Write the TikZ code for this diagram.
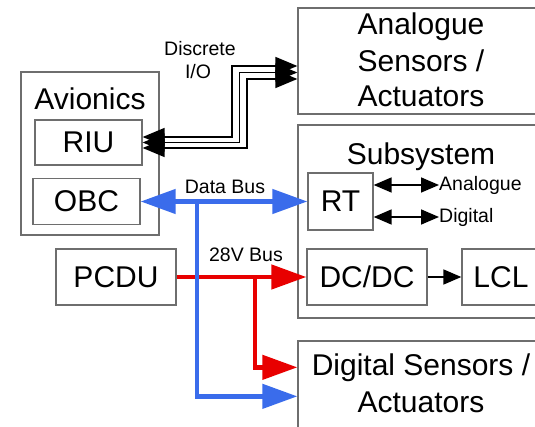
\documentclass[tikz,border=0pt]{standalone}
\usepackage{fontspec}
\setmainfont{Liberation Sans}
\usetikzlibrary{arrows.meta}
\definecolor{busblue}{RGB}{58,108,235}
\definecolor{busred}{RGB}{232,0,0}
\definecolor{boxgray}{RGB}{110,110,110}
\tikzset{
  big/.style={font=\fontsize{30}{36}\selectfont},
  small/.style={font=\fontsize{19.5}{23}\selectfont},
  unit/.style={draw=boxgray, line width=1.3pt, inner sep=0pt, big,
               text height=21pt, text depth=0pt},
  frame/.style={draw=boxgray, line width=1.3pt, inner sep=0pt},
  lbl/.style={inner sep=0pt, anchor=base},
  bustip/.tip={Triangle[length=35pt,width=24pt]},
  discretetip/.tip={Triangle[length=22pt,width=18pt]},
  signaltip/.tip={Triangle[length=18pt,width=15pt]},
  databus/.style={draw=busblue, line width=4.5pt, -bustip},
  databustwoway/.style={draw=busblue, line width=4.5pt, bustip-bustip},
  powerbus/.style={draw=busred, line width=4.5pt, -bustip},
  discrete/.style={draw=black, line width=1.6pt, discretetip-discretetip},
  signal/.style={draw=black, line width=1.6pt, -signaltip},
  signaltwoway/.style={draw=black, line width=1.6pt, signaltip-signaltip},
}
\begin{document}
\begin{tikzpicture}[x=1pt, y=-1pt]
\useasboundingbox (0,0) rectangle (535,427);
\clip (0,0) rectangle (535,427);

% Avionics unit
\node[frame, minimum width=138pt, minimum height=163pt] (avio) at (90,153.5) {};
\node[lbl, big] (aviot) at (90,110) {Avionics};
\node[unit, minimum width=107pt, minimum height=45pt] (riu) at (88.5,142.5) {RIU};
\node[unit, minimum width=107pt, minimum height=46pt] (obc) at (86.5,201.5) {OBC};

% Power unit
\node[unit, minimum width=120pt, minimum height=56pt] (pcdu) at (116,277) {PCDU};

% Analogue sensors / actuators
\node[frame, minimum width=246pt, minimum height=106pt] (anb) at (421,61) {};
\node[lbl, big] (anb1) at (421,35) {Analogue};
\node[lbl, big] (anb2) at (421,72) {Sensors /};
\node[lbl, big] (anb3) at (421,107) {Actuators};

% Subsystem
\node[frame, minimum width=246pt, minimum height=193pt] (subs) at (421,221.5) {};
\node[lbl, big] (subst) at (421,165) {Subsystem};
\node[unit, minimum width=65pt, minimum height=57pt] (rt) at (340.5,201.5) {RT};
\node[unit, minimum width=120pt, minimum height=56pt] (dcdc) at (367,277) {DC/DC};
\node[unit, minimum width=78pt, minimum height=56pt] (lcl) at (501,277) {LCL};
\node[small, inner sep=0pt, anchor=west] (ana) at (439,185) {Analogue};
\node[small, inner sep=0pt, anchor=west] (dig) at (439,217) {Digital};

% Digital sensors / actuators
\node[frame, minimum width=246pt, minimum height=120pt] (dsa) at (421,401) {};
\node[lbl, big] (dsa1) at (421,375) {Digital Sensors /};
\node[lbl, big] (dsa2) at (421,412) {Actuators};

% Bus labels
\node[lbl, small] (disc1) at (200,56) {Discrete};
\node[lbl, small] (disc2) at (198,79) {I/O};
\node[lbl, small] (dbl) at (225,194) {Data Bus};
\node[lbl, small] (pbl) at (246,262) {28V Bus};

% Discrete I/O lines
\coordinate (d1) at (232,66);
\coordinate (d2) at (239.5,72.5);
\coordinate (d3) at (247,79);
\draw[discrete] ([yshift=5.5pt]riu.east) -| (d1) -- ([yshift=-5pt]anb.west);
\draw[discrete] (riu.east) -| (d2) -- ([yshift=-11.5pt]anb.west);
\draw[discrete] ([yshift=-5.5pt]riu.east) -| (d3) -- ([yshift=-18pt]anb.west);

% RT interfaces
\draw[signaltwoway] ([yshift=16.5pt]rt.east) -- (ana.west);
\draw[signaltwoway] ([yshift=-15.5pt]rt.east) -- (dig.west);
\draw[signal] (dcdc.east) -- (lcl.west);

% 28V power bus
\coordinate (rj) at (255,277);
\draw[powerbus] (pcdu.east) -- (dcdc.west);
\draw[powerbus] (rj) |- ([yshift=-27pt]dsa.north west);

% Data bus
\coordinate (bj) at (197,201.5);
\draw[databustwoway] (obc.east) -- (rt.west);
\draw[databus] (bj) |- ([yshift=-56pt]dsa.north west);
\end{tikzpicture}
\end{document}
